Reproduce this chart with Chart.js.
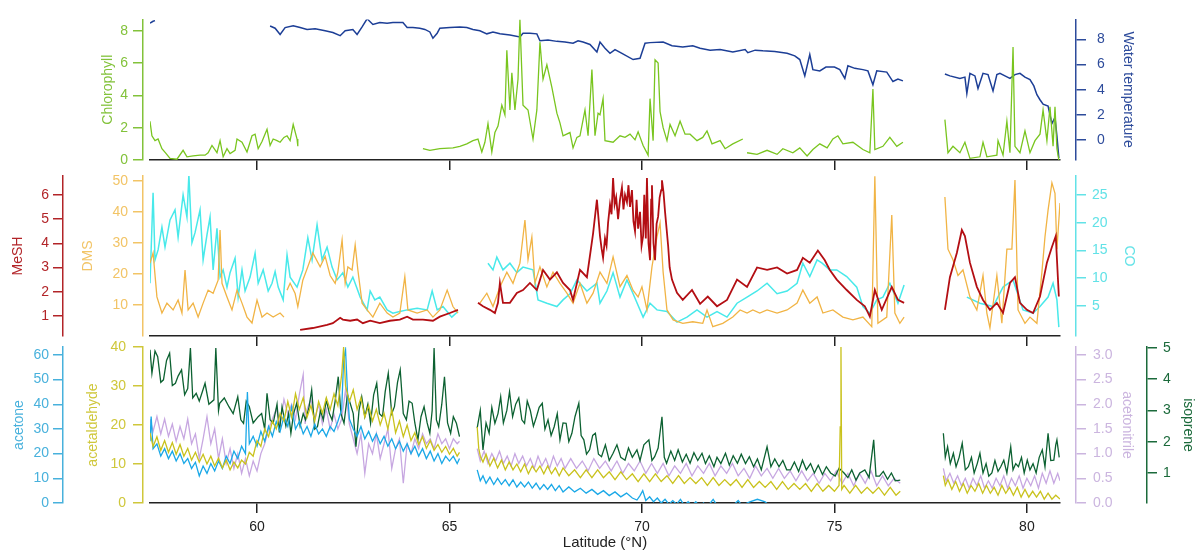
<!DOCTYPE html>
<html><head><meta charset="utf-8">
<script src="https://cdn.jsdelivr.net/npm/chart.js@4.4.1/dist/chart.umd.min.js"></script>
<style>
html,body{margin:0;padding:0;background:#fff;}
#wrap{position:relative;width:1196px;height:552px;overflow:hidden;background:#fff;}
canvas{position:absolute;left:0;top:0;}
</style></head><body>
<div id="wrap">
<canvas id="c3" width="1196" height="552"></canvas>
<canvas id="c2" width="1196" height="552"></canvas>
<canvas id="c1" width="1196" height="552"></canvas>
</div>
<script>
// ---------- axis ranges & tick labels ----------
const latRange = [57.22, 80.86];
const latTicks = [60, 65, 70, 75, 80];
const chlTicks = [0, 2, 4, 6, 8];
const wtTicks = [0, 2, 4, 6, 8];
const meshTicks = [1, 2, 3, 4, 5, 6];
const dmsTicks = [10, 20, 30, 40, 50];
const coTicks = [5, 10, 15, 20, 25];
const acetoneTicks = [0, 10, 20, 30, 40, 50, 60];
const acetaldehydeTicks = [0, 10, 20, 30, 40];
const acetonitrileTicks = [0, 0.5, 1, 1.5, 2, 2.5, 3];
const isopreneTicks = [1, 2, 3, 4, 5];

// ---------- series: [latitude, value]; value null = gap ----------
const chlorophyll = [
[57.22,2.4],[57.27,1.5],[57.35,1.2],[57.43,1.3],[57.53,0.7],[57.64,0.4],[57.74,0.1],[57.92,0.05],[58.08,0.6],[58.18,0.2],[58.34,0.25],[58.52,0.3],[58.65,0.3],[58.73,0.45],[58.83,0.9],[58.96,0.45],[59.04,1.2],[59.12,0.2],[59.22,0.7],[59.30,0.4],[59.43,0.6],[59.48,1.3],[59.61,1.1],[59.74,0.5],[59.87,1.5],[59.95,1.6],[60.03,0.7],[60.13,1.15],[60.26,1.9],[60.34,0.9],[60.42,1.3],[60.52,1.2],[60.60,1.1],[60.70,1.4],[60.78,1.5],[60.86,1.2],[60.94,2.2],[61.04,1.3],[61.06,0.85],
[62.5,null],
[64.31,0.7],[64.49,0.6],[64.75,0.7],[65.09,0.75],[65.27,0.85],[65.45,1.0],[65.61,1.2],[65.74,1.3],[65.84,0.5],[65.92,1.1],[66.0,2.25],[66.10,0.5],[66.18,1.7],[66.26,2.1],[66.36,3.4],[66.44,2.8],[66.49,6.8],[66.57,3.1],[66.62,5.4],[66.70,3.1],[66.78,5.0],[66.83,8.7],[66.91,3.4],[67.04,3.1],[67.17,1.3],[67.27,3.1],[67.35,7.3],[67.43,5.0],[67.53,5.9],[67.66,4.5],[67.79,2.9],[67.87,2.3],[67.95,1.5],[68.13,1.7],[68.21,0.75],[68.31,1.4],[68.39,1.5],[68.52,3.1],[68.60,1.5],[68.70,5.6],[68.78,1.5],[68.86,2.9],[68.91,2.8],[68.99,3.8],[69.04,1.2],[69.25,1.1],[69.43,1.5],[69.56,1.4],[69.69,1.6],[69.82,1.25],[69.90,1.75],[70.03,0.9],[70.16,0.3],[70.21,3.8],[70.29,1.2],[70.34,6.2],[70.42,6.0],[70.47,3.0],[70.55,2.0],[70.65,1.2],[70.73,2.2],[70.86,1.5],[70.99,2.4],[71.12,1.6],[71.25,1.6],[71.43,1.2],[71.58,1.4],[71.69,1.8],[71.82,1.0],[72.03,1.2],[72.16,0.7],[72.36,1.0],[72.62,1.3],
[72.70,null],
[72.73,0.45],[72.99,0.35],[73.25,0.6],[73.51,0.35],[73.66,0.7],[73.92,0.45],[74.10,0.75],[74.29,0.25],[74.44,0.65],[74.62,1.0],[74.81,0.75],[74.96,1.3],[75.09,1.5],[75.22,1.0],[75.48,1.1],[75.74,0.65],[75.92,0.45],[76.0,4.4],[76.05,0.65],[76.26,0.85],[76.44,1.4],[76.62,0.85],[76.78,1.1],
[77.3,null],
[77.87,2.5],[77.95,0.45],[78.08,0.85],[78.26,0.45],[78.39,1.1],[78.52,0.1],[78.78,0.2],[78.86,1.1],[78.96,0.2],[79.22,0.3],[79.25,1.2],[79.38,0.3],[79.48,2.4],[79.56,0.45],[79.64,7.0],[79.69,0.85],[79.82,0.45],[79.95,1.8],[80.08,0.45],[80.21,1.2],[80.34,1.6],[80.42,3.1],[80.52,1.2],[80.60,3.3],[80.68,0.85],[80.73,3.3],[80.78,0.7],[80.83,0.0]
];

const waterTemperature = [
[57.22,9.3],[57.30,9.45],[57.35,9.5],
[59.0,null],
[60.34,9.07],[60.47,8.9],[60.60,8.4],[60.73,8.95],[60.94,9.1],[61.12,8.95],[61.30,8.8],[61.51,8.85],[61.77,8.7],[61.97,8.55],[62.16,8.3],[62.29,8.7],[62.49,8.8],[62.60,8.4],[62.73,9.0],[62.86,9.65],[63.01,9.2],[63.19,9.35],[63.38,9.3],[63.53,9.35],[63.79,9.35],[63.90,8.95],[64.05,8.95],[64.23,8.9],[64.36,8.8],[64.49,8.6],[64.57,8.1],[64.68,8.5],[64.75,8.9],[65.01,8.95],[65.27,9.0],[65.45,8.95],[65.61,8.8],[65.79,8.7],[65.97,8.45],[66.13,8.6],[66.31,8.45],[66.57,8.35],[66.83,8.2],[66.91,8.5],[67.09,8.5],[67.27,8.45],[67.35,7.9],[67.56,7.95],[67.79,7.85],[68.0,7.8],[68.21,7.7],[68.34,7.9],[68.47,7.8],[68.65,7.6],[68.83,7.0],[68.91,7.8],[69.04,7.3],[69.17,6.9],[69.30,7.2],[69.48,6.9],[69.77,6.4],[69.95,6.5],[70.08,7.7],[70.21,7.75],[70.55,7.8],[70.78,7.5],[71.06,7.4],[71.32,7.5],[71.51,7.3],[71.77,7.15],[72.03,7.2],[72.36,7.0],[72.68,7.2],[72.75,6.95],[72.94,7.15],[73.14,7.1],[73.45,7.05],[73.77,6.9],[73.97,6.7],[74.10,6.4],[74.23,5.1],[74.36,6.8],[74.44,5.6],[74.62,5.5],[74.78,5.8],[75.0,5.8],[75.14,5.6],[75.27,4.9],[75.35,5.9],[75.53,5.7],[75.74,5.6],[75.87,5.5],[76.0,4.4],[76.10,5.5],[76.36,5.4],[76.52,4.65],[76.65,4.85],[76.78,4.7],
[77.3,null],
[77.87,5.25],[78.0,5.1],[78.26,4.9],[78.39,5.0],[78.44,3.7],[78.52,5.3],[78.65,5.1],[78.73,4.1],[78.86,5.3],[78.99,5.2],[79.12,3.9],[79.22,5.2],[79.30,5.3],[79.43,5.1],[79.56,4.9],[79.69,5.2],[79.82,5.3],[79.95,5.0],[80.08,4.8],[80.18,4.3],[80.26,3.6],[80.34,3.2],[80.42,2.85],[80.55,2.7],[80.60,2.0],[80.65,1.3],[80.73,1.8],[80.78,0.3],[80.83,-1.45]
];

const meSH = [
[61.12,0.42],[61.45,0.5],[61.82,0.63],[61.97,0.7],[62.16,0.92],[62.23,0.85],[62.42,0.8],[62.60,0.85],[62.75,0.7],[62.94,0.8],[63.19,0.7],[63.45,0.8],[63.71,0.85],[63.90,0.97],[64.05,0.85],[64.31,0.85],[64.57,0.8],[64.75,0.97],[65.01,1.12],[65.22,1.25],
[65.5,null],
[65.74,1.54],[65.87,1.4],[66.05,1.25],[66.18,1.12],[66.26,1.54],[66.31,2.36],[66.39,1.54],[66.57,1.54],[66.75,1.95],[66.91,2.07],[67.09,2.36],[67.27,2.07],[67.43,2.9],[67.61,2.5],[67.79,2.8],[67.95,2.36],[68.13,2.07],[68.21,1.66],[68.39,2.9],[68.57,2.6],[68.73,4.4],[68.83,5.8],[68.91,4.3],[68.95,3.8],[68.99,3.4],[69.04,4.2],[69.08,3.9],[69.12,4.85],[69.17,5.6],[69.21,5.2],[69.25,6.7],[69.29,5.6],[69.33,5.9],[69.38,5.0],[69.43,5.8],[69.48,6.3],[69.52,5.4],[69.56,6.0],[69.61,5.7],[69.65,6.4],[69.69,5.5],[69.74,6.2],[69.78,4.9],[69.82,4.5],[69.86,5.8],[69.90,4.6],[69.95,5.3],[69.99,3.9],[70.03,4.3],[70.06,6.0],[70.10,4.2],[70.13,6.7],[70.17,4.0],[70.21,3.3],[70.24,5.8],[70.26,6.4],[70.30,4.0],[70.34,3.3],[70.38,4.8],[70.42,5.1],[70.46,5.9],[70.50,6.2],[70.52,6.6],[70.56,6.1],[70.60,5.3],[70.64,4.6],[70.68,3.9],[70.72,3.0],[70.78,2.5],[70.91,1.95],[71.06,1.66],[71.30,2.07],[71.51,1.5],[71.71,1.8],[71.95,1.4],[72.21,1.66],[72.47,2.5],[72.73,2.2],[72.99,3.0],[73.25,2.9],[73.51,3.0],[73.77,2.75],[74.03,2.9],[74.18,3.4],[74.36,3.2],[74.57,3.7],[74.75,3.3],[74.88,2.9],[75.06,2.5],[75.32,2.07],[75.58,1.66],[75.79,1.4],[75.92,0.97],[76.05,2.07],[76.23,1.25],[76.49,2.2],[76.65,1.66],[76.81,1.54],
[77.3,null],
[77.87,1.25],[78.0,2.6],[78.18,3.6],[78.31,4.55],[78.39,4.3],[78.52,3.2],[78.70,2.2],[78.86,1.66],[79.04,1.25],[79.22,1.54],[79.38,1.12],[79.56,2.36],[79.69,2.6],[79.82,1.54],[80.0,1.25],[80.16,1.12],[80.34,1.8],[80.52,3.2],[80.65,3.85],[80.75,4.3],[80.83,1.8]
];

const dms = [
[57.22,23.5],[57.30,26.8],[57.40,12.6],[57.53,7.4],[57.66,10.6],[57.82,8.4],[57.95,11.6],[58.05,7.4],[58.13,21.3],[58.21,8.4],[58.34,10.6],[58.47,6.1],[58.60,10.6],[58.73,14.8],[58.86,13.8],[58.99,18.0],[59.04,34.2],[59.09,17.0],[59.22,12.6],[59.35,8.4],[59.48,14.8],[59.61,10.6],[59.74,6.1],[59.87,4.2],[60.0,11.6],[60.13,6.1],[60.26,7.4],[60.42,6.1],[60.60,7.4],[60.70,6.1],
[60.74,null],
[60.78,14.8],[60.86,17.0],[60.99,13.7],[61.06,9.5],[61.19,18.0],[61.32,22.3],[61.45,26.8],[61.64,22.3],[61.77,25.7],[61.90,19.5],[62.03,17.0],[62.10,20.6],[62.21,31.0],[62.29,17.0],[62.36,22.3],[62.47,21.3],[62.55,29.4],[62.62,21.3],[62.73,10.6],[62.86,8.4],[63.01,6.1],[63.19,10.6],[63.38,7.4],[63.53,6.1],[63.71,7.4],[63.84,19.1],[63.92,8.4],[64.16,7.4],[64.42,8.4],[64.57,6.1],[64.75,8.4],[64.94,14.8],[65.09,9.5],[65.22,7.4],
[65.5,null],
[65.79,10.6],[65.97,13.8],[66.13,9.5],[66.31,15.8],[66.49,20.6],[66.65,17.0],[66.83,23.5],[66.96,37.4],[67.04,24.6],[67.14,31.9],[67.22,17.0],[67.35,22.3],[67.53,15.8],[67.69,20.6],[67.87,17.0],[68.05,13.8],[68.21,10.6],[68.39,17.0],[68.57,10.6],[68.73,13.8],[68.91,20.6],[69.09,17.0],[69.25,25.5],[69.43,15.9],[69.61,19.5],[69.77,14.7],[69.90,12.6],[70.0,15.9],[70.13,8.4],[70.26,22.3],[70.39,32.0],[70.47,36.5],[70.55,20.6],[70.65,8.4],[70.81,5.2],[71.06,4.1],[71.32,4.6],[71.58,4.1],[71.69,8.4],[71.84,3.0],[72.10,4.1],[72.36,6.1],[72.55,8.4],[72.73,7.4],[72.88,8.4],[73.06,7.4],[73.25,8.4],[73.51,7.4],[73.77,8.4],[74.03,10.6],[74.18,14.8],[74.36,10.6],[74.55,12.6],[74.70,7.4],[74.96,8.4],[75.22,6.1],[75.48,5.2],[75.74,6.1],[75.97,3.0],[76.05,51.5],[76.13,4.1],[76.36,6.1],[76.49,39.0],[76.57,7.4],[76.70,4.1],[76.81,6.1],
[77.3,null],
[77.87,44.8],[77.95,28.0],[78.08,24.6],[78.21,19.5],[78.34,21.3],[78.52,12.6],[78.70,8.4],[78.86,19.5],[78.96,7.4],[79.04,2.6],[79.22,19.5],[79.35,4.1],[79.48,28.0],[79.61,28.0],[79.69,50.3],[79.77,8.4],[79.95,4.1],[80.08,6.1],[80.26,4.1],[80.39,20.6],[80.47,32.0],[80.55,40.6],[80.65,49.4],[80.73,46.0],[80.78,28.0],[80.86,42.9]
];

const co = [
[57.22,9.1],[57.30,25.4],[57.35,13.3],[57.43,15.1],[57.53,19.2],[57.61,15.6],[57.74,20.5],[57.87,22.3],[57.95,17.4],[58.08,25.0],[58.18,21.0],[58.23,28.6],[58.31,16.4],[58.39,18.2],[58.52,22.3],[58.60,13.3],[58.70,17.8],[58.78,21.0],[58.86,11.5],[58.96,19.0],[59.04,10.2],[59.12,11.5],[59.22,8.4],[59.30,11.0],[59.43,13.6],[59.51,6.6],[59.61,11.5],[59.69,7.7],[59.82,10.2],[59.95,14.5],[60.03,9.1],[60.16,11.5],[60.29,7.7],[60.39,9.1],[60.47,11.2],[60.55,8.4],[60.68,6.1],[60.78,14.2],[60.86,10.2],[61.04,8.4],[61.19,11.5],[61.32,17.3],[61.43,13.3],[61.56,19.6],[61.69,13.3],[61.82,15.6],[61.95,12.0],[62.08,9.7],[62.23,11.0],[62.36,8.4],[62.49,10.2],[62.68,6.6],[62.86,4.3],[62.94,7.7],[63.06,6.1],[63.19,6.6],[63.38,4.3],[63.53,3.7],[63.71,4.0],[63.90,4.3],[64.16,4.6],[64.42,4.3],[64.55,7.7],[64.68,4.3],[64.83,4.9],[65.06,3.0],[65.22,4.0],
[65.5,null],
[66.0,12.7],[66.13,11.5],[66.23,13.8],[66.39,11.5],[66.57,12.7],[66.75,11.0],[66.91,12.0],[67.17,11.5],[67.30,6.1],[67.53,5.5],[67.79,4.9],[67.95,6.1],[68.13,7.2],[68.31,9.7],[68.57,7.7],[68.83,9.1],[68.91,5.5],[69.09,7.7],[69.25,11.0],[69.43,6.6],[69.61,9.7],[69.77,7.2],[70.03,3.0],[70.21,5.5],[70.39,4.3],[70.65,4.0],[70.91,2.1],[71.17,3.0],[71.43,4.3],[71.69,3.0],[71.95,4.0],[72.21,3.0],[72.47,5.5],[72.73,6.6],[72.99,7.7],[73.25,9.1],[73.51,7.2],[73.77,7.7],[74.03,9.1],[74.18,12.7],[74.36,10.3],[74.55,13.3],[74.68,12.7],[74.88,11.5],[75.06,11.5],[75.32,10.3],[75.58,8.4],[75.74,4.9],[75.92,3.7],[76.10,6.1],[76.26,6.6],[76.44,9.1],[76.65,5.5],[76.81,8.8],
[77.3,null],
[78.44,6.6],[78.78,5.5],[79.12,4.9],[79.38,8.4],[79.64,9.7],[79.90,4.3],[80.16,3.7],[80.34,4.9],[80.55,6.6],[80.68,9.1],[80.78,6.1],[80.83,1.2]
];

const acetone = [
[57.22,25],[57.25,35],[57.30,22],[57.40,24],[57.50,19],[57.60,22],[57.70,18],[57.80,21],[57.90,17],[58.0,20],[58.10,16],[58.20,18],[58.30,14],[58.40,16.5],[58.50,11],[58.60,15],[58.70,12],[58.80,16],[58.90,13],[59.0,17],[59.10,14],[59.20,19],[59.30,16],[59.40,21],[59.50,18],[59.60,23],[59.70,20],[59.75,45],[59.80,24],[59.90,27],[60.0,23],[60.10,29],[60.20,25],[60.30,31],[60.40,27],[60.50,33],[60.60,29],[60.70,35],[60.80,31],[60.90,39],[61.0,30],[61.10,33],[61.20,28],[61.30,31],[61.40,27],[61.50,32],[61.60,28],[61.70,30],[61.80,27],[61.90,31],[62.0,29],[62.10,33],[62.20,38],[62.25,58],[62.30,62],[62.35,45],[62.40,34],[62.50,30],[62.60,27],[62.70,31],[62.80,26],[62.90,29],[63.0,25],[63.10,28],[63.20,24],[63.30,27],[63.40,23],[63.50,26],[63.60,22],[63.70,25],[63.80,21],[63.90,24],[64.0,20],[64.10,23],[64.20,19],[64.30,22],[64.40,18],[64.50,21],[64.60,17],[64.70,20],[64.80,16],[64.90,19],[65.0,17],[65.10,19],[65.20,16],[65.26,18],
[65.5,null],
[65.72,13.4],[65.80,9],[65.87,11],[65.95,8],[66.05,10.5],[66.15,7.5],[66.25,10],[66.35,7.5],[66.45,9.5],[66.55,7],[66.65,9.4],[66.75,6.5],[66.85,8.5],[66.95,6.5],[67.05,8.5],[67.15,6],[67.25,8],[67.35,5.5],[67.45,7.5],[67.55,5.5],[67.65,7.5],[67.75,5],[67.85,7],[67.95,4.5],[68.10,6.5],[68.25,4.5],[68.40,6],[68.55,4],[68.70,5.5],[68.85,3.5],[69.0,5],[69.15,3],[69.30,4.5],[69.45,2.5],[69.60,4],[69.75,2],[69.87,1.2],[69.95,3],[70.02,5],[70.10,1],[70.20,2.5],[70.30,0.5],[70.40,2],[70.50,0],[70.60,1.5],[70.70,-0.5],[70.80,1],[70.90,-0.5],[71.0,1.5],[71.10,-1],[71.20,0.5],[71.30,-1],[71.40,0.5],[71.50,-1.5],[71.60,0],[71.70,-1.5],[71.85,1.5],[71.95,-1],[72.10,-1.5],[72.30,-2],[72.50,1],[72.60,-1],[72.80,0.5],[73.0,1.5],[73.20,0.5],[73.30,-1],[73.50,-3]
];

const acetaldehyde = [
[57.22,18],[57.30,14.5],[57.40,17],[57.50,13.5],[57.60,16],[57.70,13],[57.80,15.5],[57.90,12.5],[58.0,15],[58.10,12],[58.20,14],[58.30,11],[58.40,13],[58.50,10.5],[58.60,12.5],[58.70,10],[58.80,12],[58.90,9.5],[59.0,11.5],[59.10,9],[59.20,11],[59.30,8.5],[59.40,10.5],[59.50,9],[59.60,11],[59.70,10],[59.80,13],[59.90,12],[60.0,16],[60.10,14.5],[60.20,19],[60.30,17],[60.40,21],[60.50,19],[60.60,23],[60.70,21],[60.80,26],[60.90,22],[61.0,28],[61.10,24],[61.20,27],[61.30,22],[61.40,25],[61.50,21],[61.60,26],[61.70,23],[61.80,27],[61.90,24],[62.0,28],[62.10,25],[62.20,33],[62.25,40],[62.30,30],[62.40,26],[62.50,29],[62.60,24],[62.70,27],[62.80,22],[62.90,25],[63.0,21],[63.10,24],[63.20,20],[63.30,23],[63.40,19],[63.50,24],[63.60,18],[63.70,21],[63.80,17],[63.90,20],[64.0,16],[64.10,18],[64.20,15],[64.30,17],[64.40,14],[64.50,16],[64.60,13.5],[64.70,15],[64.80,13],[64.90,14.5],[65.0,12.5],[65.10,14],[65.20,12],[65.26,13],
[65.5,null],
[65.72,19.5],[65.76,14],[65.80,12],[65.87,10.5],[65.95,12.5],[66.05,9.5],[66.15,11.5],[66.25,9],[66.35,11],[66.45,8.5],[66.55,10.5],[66.65,8.5],[66.75,10],[66.85,8],[66.95,10],[67.05,7.5],[67.15,9.5],[67.25,8],[67.35,9.5],[67.45,7.5],[67.55,9.5],[67.65,7.5],[67.75,9],[67.85,7],[67.95,9],[68.10,7],[68.25,8.5],[68.40,6.5],[68.55,8.5],[68.70,6.5],[68.85,8.5],[69.0,6.5],[69.15,8],[69.30,6],[69.45,8],[69.60,6],[69.75,7.5],[69.90,5.5],[70.05,7.5],[70.20,5.5],[70.35,7.5],[70.50,5.5],[70.65,7],[70.80,5],[70.95,7],[71.10,5],[71.25,6.5],[71.40,5],[71.55,6.5],[71.70,4.5],[71.85,6.5],[72.0,4.5],[72.15,6],[72.30,4.5],[72.45,6],[72.60,4],[72.75,6],[72.90,4],[73.05,5.5],[73.20,4],[73.35,5.5],[73.50,3.5],[73.65,5.5],[73.80,3.5],[73.95,5],[74.10,3.5],[74.25,5],[74.40,3],[74.55,5],[74.70,3],[74.85,4.5],[75.0,3],[75.12,4.5],[75.15,19.5],[75.17,40],[75.19,3.5],[75.25,4.5],[75.40,2.5],[75.55,4.5],[75.70,2.5],[75.85,4],[76.0,2.5],[76.15,4],[76.30,2],[76.45,4],[76.60,2],[76.71,3],
[77.3,null],
[77.83,7],[77.88,4.5],[77.95,6],[78.05,3.5],[78.15,5.5],[78.25,3],[78.35,5],[78.45,2.5],[78.55,4.5],[78.65,3],[78.75,5],[78.85,2.5],[78.95,4.5],[79.05,2.5],[79.15,4],[79.25,2],[79.35,4.5],[79.45,2.5],[79.55,4],[79.65,2],[79.75,4],[79.85,1.5],[79.95,3.5],[80.05,1.5],[80.15,3],[80.25,1.5],[80.35,3],[80.45,1],[80.55,2.5],[80.65,1],[80.75,2],[80.86,1]
];

const acetonitrile = [
[57.22,1.7],[57.30,1.45],[57.40,1.75],[57.50,1.4],[57.60,1.7],[57.70,1.35],[57.80,1.6],[57.90,1.25],[58.0,1.55],[58.10,1.3],[58.20,1.7],[58.30,1.2],[58.40,1.4],[58.50,0.9],[58.60,1.3],[58.70,1.75],[58.80,1.2],[58.90,1.5],[59.0,0.9],[59.10,1.3],[59.20,0.8],[59.30,1.1],[59.40,0.7],[59.50,1.0],[59.60,0.6],[59.70,0.9],[59.80,0.55],[59.90,0.85],[60.0,0.65],[60.10,1.0],[60.20,1.2],[60.30,1.5],[60.40,1.7],[60.50,1.9],[60.60,1.6],[60.70,2.1],[60.80,1.8],[60.90,2.0],[61.0,1.7],[61.10,2.2],[61.20,2.6],[61.25,1.6],[61.30,1.9],[61.40,2.1],[61.50,1.7],[61.60,2.0],[61.70,1.6],[61.80,1.9],[61.90,1.5],[62.0,1.8],[62.10,1.5],[62.20,1.7],[62.30,2.3],[62.40,1.6],[62.50,1.3],[62.60,1.0],[62.70,1.4],[62.80,0.6],[62.90,1.2],[63.0,1.0],[63.10,1.4],[63.20,0.9],[63.30,1.2],[63.40,1.5],[63.50,0.7],[63.60,1.1],[63.70,1.3],[63.80,0.4],[63.90,1.2],[64.0,1.0],[64.10,1.3],[64.20,1.1],[64.30,1.4],[64.40,1.2],[64.50,1.3],[64.60,1.1],[64.70,1.4],[64.80,1.2],[64.90,1.3],[65.0,1.1],[65.10,1.3],[65.20,1.2],[65.26,1.25],
[65.5,null],
[65.72,1.1],[65.80,0.85],[65.90,1.05],[66.0,0.8],[66.10,1.0],[66.20,0.85],[66.30,1.05],[66.40,0.8],[66.50,0.95],[66.60,0.75],[66.70,1.0],[66.80,0.8],[66.90,0.95],[67.0,0.75],[67.10,0.9],[67.20,0.7],[67.30,0.95],[67.40,0.75],[67.50,0.9],[67.60,0.7],[67.70,0.95],[67.80,0.75],[67.90,0.9],[68.0,0.7],[68.15,0.9],[68.30,0.7],[68.45,0.85],[68.60,0.65],[68.75,0.9],[68.90,0.7],[69.05,0.85],[69.20,0.65],[69.35,0.85],[69.50,0.6],[69.65,0.8],[69.80,0.65],[69.95,0.85],[70.10,0.6],[70.25,0.8],[70.40,0.6],[70.55,0.8],[70.70,0.55],[70.85,0.75],[71.0,0.6],[71.15,0.8],[71.30,0.55],[71.45,0.75],[71.60,0.6],[71.75,0.8],[71.90,0.55],[72.05,0.75],[72.20,0.6],[72.35,0.8],[72.50,0.55],[72.65,0.7],[72.80,0.5],[72.95,0.75],[73.10,0.55],[73.25,0.7],[73.40,0.5],[73.55,0.7],[73.70,0.5],[73.85,0.65],[74.0,0.45],[74.15,0.65],[74.30,0.45],[74.45,0.6],[74.60,0.4],[74.75,0.6],[74.90,0.45],[75.05,0.65],[75.20,0.4],[75.35,0.6],[75.50,0.35],[75.65,0.6],[75.80,0.4],[75.95,0.65],[76.10,0.35],[76.25,0.55],[76.40,0.35],[76.55,0.5],[76.71,0.4],
[77.3,null],
[77.83,0.7],[77.90,0.45],[78.0,0.6],[78.10,0.4],[78.20,0.55],[78.30,0.35],[78.40,0.5],[78.50,0.3],[78.60,0.5],[78.70,0.35],[78.80,0.55],[78.90,0.3],[79.0,0.45],[79.10,0.3],[79.20,0.5],[79.30,0.35],[79.40,0.55],[79.50,0.3],[79.60,0.5],[79.70,0.35],[79.80,0.55],[79.90,0.3],[80.0,0.5],[80.10,0.35],[80.20,0.55],[80.30,0.3],[80.40,0.6],[80.50,0.4],[80.60,0.65],[80.70,0.4],[80.80,0.6],[80.86,0.45]
];

const isoprene = [
[57.22,4.94],[57.27,4.19],[57.35,4.9],[57.42,4.72],[57.50,3.9],[57.57,3.98],[57.65,4.6],[57.73,4.83],[57.80,3.8],[57.88,3.87],[57.95,4.1],[58.04,4.30],[58.12,3.5],[58.20,3.7],[58.27,5.0],[58.33,3.4],[58.42,3.55],[58.50,3.3],[58.58,3.6],[58.65,3.87],[58.75,3.2],[58.88,3.34],[58.93,5.0],[59.0,3.0],[59.03,3.23],[59.15,3.4],[59.27,3.12],[59.38,2.9],[59.50,3.44],[59.58,2.7],[59.65,2.59],[59.72,3.3],[59.80,3.12],[59.90,2.6],[60.03,2.8],[60.12,2.9],[60.20,2.4],[60.26,3.55],[60.34,2.7],[60.42,2.59],[60.52,3.2],[60.58,2.3],[60.65,3.12],[60.75,2.5],[60.82,2.9],[60.88,2.27],[60.95,2.9],[61.03,3.23],[61.12,2.5],[61.20,2.9],[61.26,2.7],[61.35,3.1],[61.42,3.66],[61.50,2.4],[61.57,2.48],[61.65,3.0],[61.72,2.7],[61.80,3.34],[61.88,2.9],[61.95,2.7],[62.03,3.3],[62.11,4.08],[62.18,2.9],[62.26,2.59],[62.35,3.5],[62.42,3.23],[62.50,2.9],[62.57,1.84],[62.65,3.0],[62.72,3.44],[62.80,2.8],[62.88,3.2],[62.95,2.59],[63.03,3.5],[63.11,3.87],[63.18,2.9],[63.26,2.8],[63.33,3.6],[63.41,4.19],[63.50,2.9],[63.57,3.12],[63.65,3.9],[63.72,4.30],[63.80,2.9],[63.88,2.7],[63.95,3.3],[64.03,3.23],[64.10,2.6],[64.18,2.06],[64.26,2.8],[64.34,3.12],[64.42,2.6],[64.49,2.27],[64.55,3.0],[64.60,5.0],[64.66,2.7],[64.72,2.48],[64.80,3.2],[64.87,4.08],[64.95,2.6],[65.03,2.27],[65.10,2.8],[65.18,2.59],[65.26,2.16],
[65.5,null],
[65.72,2.44],[65.80,3.0],[65.87,1.74],[65.95,2.6],[66.03,2.27],[66.10,3.1],[66.18,2.59],[66.26,2.9],[66.33,3.44],[66.40,2.6],[66.49,3.0],[66.56,3.6],[66.64,2.8],[66.72,3.2],[66.80,3.4],[66.88,2.7],[66.95,2.59],[67.02,3.3],[67.10,3.0],[67.18,2.5],[67.26,2.8],[67.33,3.1],[67.41,3.23],[67.48,2.4],[67.56,2.7],[67.64,2.2],[67.72,2.48],[67.80,2.9],[67.87,2.06],[67.95,2.6],[68.03,2.59],[68.10,2.0],[68.18,2.27],[68.26,2.8],[68.36,3.23],[68.42,2.2],[68.49,2.06],[68.56,1.6],[68.64,1.74],[68.72,2.2],[68.79,2.27],[68.87,1.6],[68.95,1.52],[69.05,1.9],[69.15,1.4],[69.25,1.63],[69.35,1.9],[69.45,1.5],[69.56,1.41],[69.65,1.8],[69.75,1.5],[69.87,1.74],[69.95,1.4],[70.05,1.9],[70.18,2.06],[70.26,1.4],[70.33,1.52],[70.42,1.8],[70.52,2.8],[70.58,1.5],[70.64,1.31],[70.75,1.7],[70.85,1.4],[70.94,1.74],[71.05,1.35],[71.15,1.6],[71.25,1.31],[71.35,1.65],[71.45,1.4],[71.56,1.63],[71.65,1.3],[71.75,1.55],[71.87,1.2],[71.95,1.5],[72.05,1.3],[72.17,1.63],[72.27,1.25],[72.37,1.55],[72.48,1.31],[72.58,1.6],[72.69,1.3],[72.79,1.52],[72.90,1.2],[73.0,1.45],[73.10,1.1],[73.25,1.84],[73.35,1.2],[73.45,1.45],[73.56,1.2],[73.66,1.4],[73.76,1.1],[73.86,1.1],[73.96,1.35],[74.07,1.05],[74.17,1.41],[74.27,1.1],[74.38,1.3],[74.48,1.0],[74.58,1.25],[74.69,0.95],[74.79,1.2],[74.90,1.0],[75.02,0.9],[75.12,1.15],[75.25,1.0],[75.35,0.85],[75.45,1.1],[75.56,0.77],[75.66,1.0],[75.79,1.1],[75.90,0.85],[76.02,2.06],[76.08,0.9],[76.17,0.9],[76.27,1.05],[76.38,0.8],[76.48,1.0],[76.58,0.75],[76.71,0.77],
[77.3,null],
[77.83,2.27],[77.88,1.5],[77.94,1.84],[78.01,1.3],[78.09,1.63],[78.16,1.2],[78.24,1.5],[78.32,1.95],[78.40,1.1],[78.48,1.2],[78.56,1.5],[78.63,1.0],[78.71,1.3],[78.78,1.63],[78.86,1.0],[78.94,1.3],[79.01,0.9],[79.09,1.0],[79.17,1.4],[79.25,1.05],[79.32,1.2],[79.40,1.41],[79.48,1.0],[79.58,1.84],[79.64,1.1],[79.71,1.3],[79.78,1.2],[79.86,1.5],[79.93,1.0],[80.01,1.41],[80.08,1.1],[80.16,1.3],[80.24,1.0],[80.32,1.5],[80.40,1.74],[80.47,1.2],[80.55,2.27],[80.62,1.4],[80.70,1.41],[80.75,1.9],[80.78,2.06],[80.84,1.5]
];

// ---------- styling ----------
const FONT = "'Liberation Sans', Arial, Helvetica, sans-serif";
const C = {
  chl:  {line:'#79c51f', axis:'#82c23a'},
  wt:   {line:'#1c3e96', axis:'#2d4b9b'},
  mesh: {line:'#b30e13', axis:'#b22428'},
  dms:  {line:'#f1b445', axis:'#f2c466'},
  co:   {line:'#48e9ea', axis:'#62e2e7'},
  acet: {line:'#1aa8e7', axis:'#48b1dc'},
  ald:  {line:'#c9c21c', axis:'#cfc73a'},
  acn:  {line:'#c7a7e1', axis:'#cbb5df'},
  iso:  {line:'#0c6131', axis:'#1b6a3b'}
};

function pts(arr){ return arr.map(p => ({x:p[0], y:p[1]})); }

function yAxis(pos, weight, width, color, min, max, ticks, title, titlePad, tickPad, fmt){
  return {
    type:'linear', position:pos, weight:weight, min:min, max:max,
    afterBuildTicks: s => { s.ticks = ticks.map(v => ({value:v})); },
    afterFit: s => { s.width = width; },
    grid:{display:true, drawOnChartArea:false, drawTicks:true, tickLength:10, color:color, lineWidth:1.5},
    border:{display:true, color:color, width:1.5},
    ticks:{color:color, font:{family:FONT, size:14}, padding:tickPad, callback: fmt || (v => String(v))},
    title:{display:true, text:title, color:color, font:{family:FONT, size:14}, padding:{top:titlePad, bottom:0}}
  };
}
function spacer(pos, width){
  return {type:'linear', position:pos, weight:0, display:true,
    afterFit: s => { s.width = width; },
    grid:{display:false}, border:{display:false}, ticks:{display:false}, title:{display:false}};
}
function xAxis(showLabels, height){
  return {
    type:'linear', position:'bottom', min:latRange[0], max:latRange[1],
    afterBuildTicks: s => { s.ticks = latTicks.map(v => ({value:v})); },
    afterFit: s => { s.height = height; },
    grid:{display:true, drawOnChartArea:false, drawTicks:true, tickLength:10, color:'#222', lineWidth:1.5},
    border:{display:true, color:'#222', width:1.5},
    ticks:{display:showLabels, color:'#222', font:{family:FONT, size:14}, padding:6, maxRotation:0, autoSkip:false},
    title:{display:showLabels, text:'Latitude (°N)', color:'#222', font:{family:FONT, size:15}, padding:{top:0, bottom:0}}
  };
}
function ds(data, axis, color, width){
  return {data:pts(data), xAxisID:'x', yAxisID:axis, borderColor:color, backgroundColor:color,
    borderWidth:width || 1.2, pointRadius:0, fill:false, tension:0, spanGaps:false};
}
function makeChart(id, datasets, scales, padding){
  return new Chart(document.getElementById(id), {
    type:'line',
    data:{datasets:datasets},
    options:{
      responsive:false, animation:false, devicePixelRatio:1, events:[],
      layout:{padding:padding, autoPadding:false},
      plugins:{legend:{display:false}, tooltip:{enabled:false}},
      scales:scales
    }
  });
}

// ---------- top panel ----------
makeChart('c1',
  [ds(chlorophyll,'yChl',C.chl.line,1.3), ds(waterTemperature,'yWT',C.wt.line,1.5)],
  {
    x: xAxis(false, 12),
    spL: spacer('left', 7),
    yChl: yAxis('left', 1, 143, C.chl.axis, 0, 8.71, chlTicks, 'Chlorophyll', 99.6, 5),
    spR: spacer('right', 16),
    yWT: yAxis('right', 1, 120, C.wt.axis, -1.6, 9.6, wtTicks, 'Water temperature', 59.6, 11)
  },
  {top:13, bottom:380, left:0, right:0});

// ---------- middle panel ----------
makeChart('c2',
  [ds(meSH,'yMeSH',C.mesh.line,1.8), ds(dms,'yDMS',C.dms.line,1.3), ds(co,'yCO',C.co.line,1.5)],
  {
    x: xAxis(false, 12),
    spL: spacer('left', 7),
    yDMS: yAxis('left', 1, 80, C.dms.axis, 0, 51.6, dmsTicks, 'DMS', 16.6, 5),
    yMeSH: yAxis('left', 2, 63, C.mesh.axis, 0.17, 6.78, meshTicks, 'MeSH', 9.6, 4),
    spR: spacer('right', 16),
    yCO: yAxis('right', 1, 120, C.co.axis, -0.4, 28.4, coTicks, 'CO', 58.6, 6)
  },
  {top:176, bottom:204, left:0, right:0});

// ---------- bottom panel ----------
makeChart('c3',
  [ds(acetaldehyde,'yAld',C.ald.line,1.3), ds(acetone,'yAcet',C.acet.line,1.3),
   ds(isoprene,'yIso',C.iso.line,1.3), ds(acetonitrile,'yAcn',C.acn.line,1.3)],
  {
    x: xAxis(true, 49),
    spL: spacer('left', 7),
    yAld: yAxis('left', 1, 80, C.ald.axis, 0, 40, acetaldehydeTicks, 'acetaldehyde', 21.6, 7),
    yAcet: yAxis('left', 2, 63, C.acet.axis, 0, 63.2, acetoneTicks, 'acetone', 10.6, 4),
    spR: spacer('right', 16),
    yAcn: yAxis('right', 1, 71, C.acn.axis, 0, 3.16, acetonitrileTicks, 'acetonitrile', 11.6, 7, v => v.toFixed(1)),
    yIso: yAxis('right', 2, 49, C.iso.axis, 0.04, 5.03, isopreneTicks, 'isoprene', 0, 6)
  },
  {top:347, bottom:0, left:0, right:0});
</script>
</body></html>
